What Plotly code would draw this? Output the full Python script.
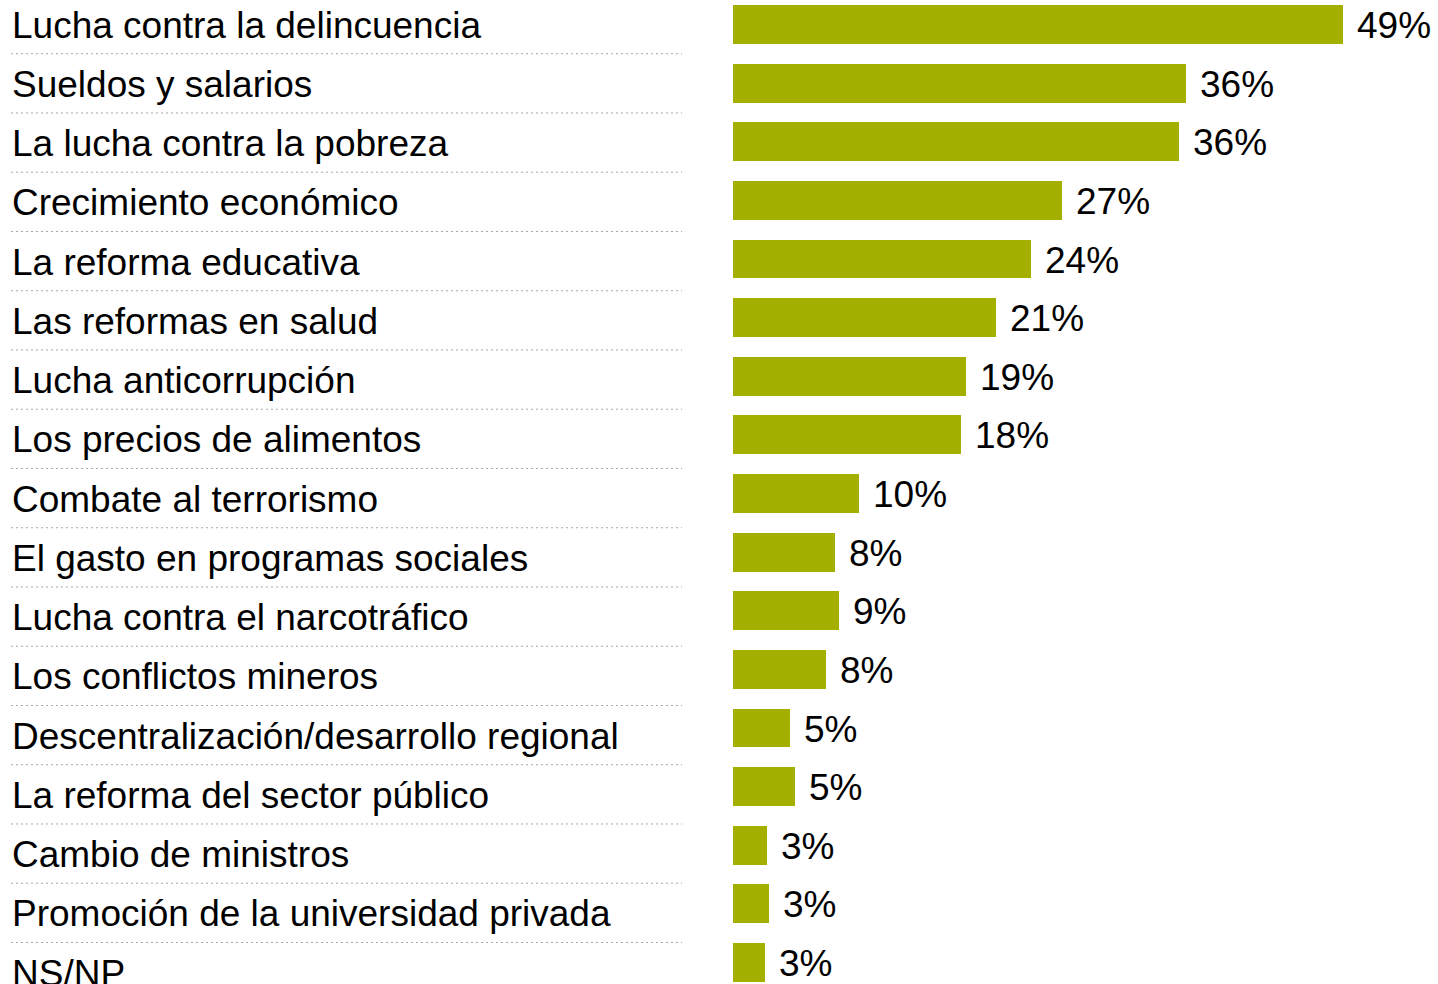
import plotly.graph_objects as go

categories = [
    "Lucha contra la delincuencia",
    "Sueldos y salarios",
    "La lucha contra la pobreza",
    "Crecimiento económico",
    "La reforma educativa",
    "Las reformas en salud",
    "Lucha anticorrupción",
    "Los precios de alimentos",
    "Combate al terrorismo",
    "El gasto en programas sociales",
    "Lucha contra el narcotráfico",
    "Los conflictos mineros",
    "Descentralización/desarrollo regional",
    "La reforma del sector público",
    "Cambio de ministros",
    "Promoción de la universidad privada",
    "NS/NP",
]
values = [49, 36.4, 35.8, 26.4, 23.9, 21.1, 18.7, 18.3, 10.1, 8.2, 8.5, 7.5, 4.6, 5.0, 2.7, 2.9, 2.6]
value_labels = ["49%", "36%", "36%", "27%", "24%", "21%", "19%", "18%", "10%",
                "8%", "9%", "8%", "5%", "5%", "3%", "3%", "3%"]

W, H = 1438, 984
FONT = "Liberation Sans, Arial, sans-serif"
BAR_COLOR = "#A3B000"

idx = list(range(len(categories)))

fig = go.Figure()
fig.add_trace(go.Bar(
    x=values, y=idx, orientation="h",
    marker=dict(color=BAR_COLOR, line=dict(width=0)),
    width=0.665, hoverinfo="skip",
))

annotations = []
for i, (c, v, t) in enumerate(zip(categories, values, value_labels)):
    annotations.append(dict(
        x=10 / W, xref="paper", y=i, yref="y2", text=c, showarrow=False,
        xanchor="left", yanchor="middle", yshift=-1,
        font=dict(family=FONT, size=37, color="#000000"),
    ))
    annotations.append(dict(
        x=v, xref="x", y=i, yref="y", text=t, showarrow=False,
        xanchor="left", yanchor="middle", xshift=12, yshift=-1,
        font=dict(family=FONT, size=37, color="#000000"),
    ))

shapes = []
for i in range(len(categories) - 1):
    shapes.append(dict(
        type="line", xref="paper", yref="y2",
        x0=11 / W, x1=682 / W, y0=i + 0.5, y1=i + 0.5,
        line=dict(color="#a8a8a8", width=1, dash="2px,3px"),
    ))

# bar rows
pitch = 58.625
top = -24.5 / pitch
bottom = top + H / pitch
# label rows (slightly different spacing in the original)
pitch2 = 59.25
top2 = -24.1 / pitch2
bottom2 = top2 + H / pitch2

fig.update_layout(
    width=W, height=H,
    margin=dict(l=0, r=0, t=0, b=0),
    paper_bgcolor="white", plot_bgcolor="white",
    showlegend=False,
    annotations=annotations, shapes=shapes,
    xaxis=dict(domain=[733 / W, 1], range=[0, (W - 733) / 12.45],
               visible=False, fixedrange=True),
    yaxis=dict(range=[bottom, top], visible=False, fixedrange=True),
    yaxis2=dict(range=[bottom2, top2], visible=False, fixedrange=True,
                overlaying="y", side="right"),
    bargap=0,
)

fig.write_html(
    "out.html",
    config={"displayModeBar": False},
    post_script="document.body.style.margin='0';document.body.style.overflow='hidden';",
)
